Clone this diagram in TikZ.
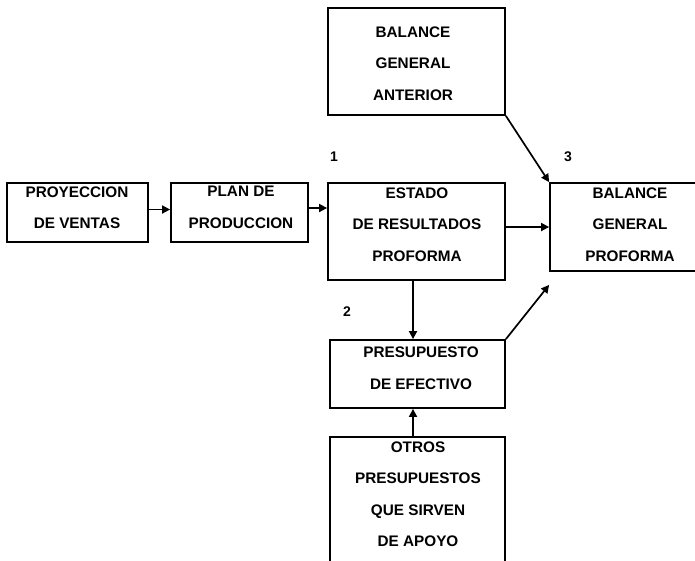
\documentclass[tikz,border=0pt]{standalone}
\usepackage{fontspec}
\setmainfont{Liberation Sans}
\usetikzlibrary{arrows.meta}
\begin{document}
\begin{tikzpicture}[x=1pt,y=-1pt,
  box/.style={draw, line width=1.8pt, inner sep=0pt},
  txt/.style={align=center, inner sep=0pt, font=\fontsize{15.3}{31.5}\selectfont\bfseries},
  num/.style={inner sep=0pt, font=\fontsize{14}{15}\selectfont\bfseries},
  arr/.style={line width=1.7pt, -{Triangle[length=8pt,width=8pt]}}]
\useasboundingbox[fill=white] (0,0) rectangle (695,560);
% boxes
\node[box, minimum width=141pt, minimum height=59pt] (proy) at (77.5,212.5) {};
\node[box, minimum width=137pt, minimum height=59pt] (plan) at (239.5,212.5) {};
\node[box, minimum width=177pt, minimum height=107pt] (ant) at (416.5,61.5) {};
\node[box, minimum width=177pt, minimum height=97pt] (estado) at (416.5,231.5) {};
\node[box, minimum width=160pt, minimum height=88pt] (pf) at (630,227) {};
\node[box, minimum width=175pt, minimum height=68pt] (pres) at (417.5,374) {};
\node[box, minimum width=175pt, minimum height=136pt] (otros) at (417.5,505) {};
% texts
\node[txt] (proyT) at (77,207.5) {PROYECCION\\DE VENTAS};
\node[txt] (planT) at (241,207.5) {PLAN DE\\PRODUCCION};
\node[txt] (antT) at (413,63.3) {BALANCE\\GENERAL\\ANTERIOR};
\node[txt] (estadoT) at (417,224.7) {ESTADO\\DE RESULTADOS\\PROFORMA};
\node[txt] (pfT) at (630,224.7) {BALANCE\\GENERAL\\PROFORMA};
\node[txt] (presT) at (421,368) {PRESUPUESTO\\DE EFECTIVO};
\node[txt] (otrosT) at (418,494) {OTROS\\PRESUPUESTOS\\QUE SIRVEN\\DE APOYO};
% numbers
\node[num] (n1) at (334,157) {1};
\node[num] (n3) at (568,157) {3};
\node[num] (n2) at (347,312) {2};
% connectors
\coordinate (c1) at ([yshift=3pt]proy.east);
\draw[arr] (c1) -- (c1 -| plan.west);
\coordinate (c2) at ([yshift=4.5pt]plan.east);
\draw[arr] (c2) -- (c2 -| estado.west);
\draw[arr] (estado.east |- pf.west) -- (pf.west);
\draw[arr] (ant.south east) -- (pf.north west);
\coordinate (c3) at ([yshift=-13pt]pf.south west);
\draw[arr] (pres.north east) -- (c3);
\coordinate (vx) at (413,0);
\draw[arr] (estado.south -| vx) -- (pres.north -| vx);
\draw[arr] (otros.north -| vx) -- (pres.south -| vx);
\end{tikzpicture}
\end{document}
